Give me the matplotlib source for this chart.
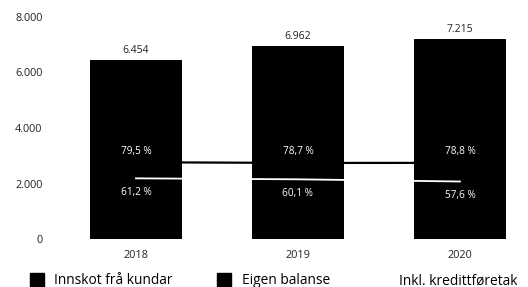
import matplotlib
matplotlib.use("Agg")
import matplotlib.pyplot as plt
from matplotlib.lines import Line2D

plt.rcParams['font.family'] = ['Open Sans', 'DejaVu Sans']

# data
years = ['2018', '2019', '2020']
balanse = [6454, 6962, 7215]
innskot_pct = [79.5, 78.7, 78.8]        # Innskot frå kundar (eigen balanse)
inkl_kreditt_pct = [61.2, 60.1, 57.6]   # Inkl. kredittføretak
yticks = [0, 2000, 4000, 6000, 8000]

def fmt_thousands(v):
    return f"{v:,.0f}".replace(',', '.')

def fmt_pct(v):
    return f"{v:.1f} %".replace('.', ',')

fig = plt.figure(figsize=(5.28, 2.87), dpi=100)
ax = fig.add_axes([0.104, 0.167, 0.896, 0.774])
x = list(range(len(years)))

bars = ax.bar(x, balanse, width=0.57, color='black', zorder=2)
for xi, v in zip(x, balanse):
    ax.annotate(fmt_thousands(v), (xi, v), xytext=(0, 3), textcoords='offset points',
                ha='center', va='bottom', fontsize=7.5, color='#222222')

ax.set_ylim(0, 8000)
ax.set_xlim(-0.5, 2.42)
ax.set_yticks(yticks)
ax.set_yticklabels([fmt_thousands(t) for t in yticks])
ax.set_xticks(x)
ax.set_xticklabels(years)
ax.tick_params(axis='both', length=0, labelsize=7.8, colors='#222222')
ax.tick_params(axis='y', pad=9)
ax.tick_params(axis='x', pad=8)
for s in ax.spines.values():
    s.set_visible(False)

# ratio lines on a hidden secondary axis
ax2 = ax.twinx()
ax2.set_ylim(-7.8, 244.6)
ax2.set_axis_off()
ax2.plot(x, innskot_pct, color='black', lw=1.6, zorder=3)
ax2.plot(x, inkl_kreditt_pct, color='white', lw=1.3, zorder=3)
for xi, p in zip(x, innskot_pct):
    ax2.annotate(fmt_pct(p), (xi, p), xytext=(0, 8), textcoords='offset points',
                 ha='center', va='center', fontsize=7.2, color='white')
for xi, p in zip(x, inkl_kreditt_pct):
    ax2.annotate(fmt_pct(p), (xi, p), xytext=(0, -10), textcoords='offset points',
                 ha='center', va='center', fontsize=7.2, color='white')

handles = [
    Line2D([], [], ls='none', marker='s', ms=10.5, mfc='black', mec='black'),
    Line2D([], [], ls='none', marker='s', ms=10.5, mfc='black', mec='black'),
    Line2D([], [], ls='none', marker='s', ms=10.5, mfc='white', mec='white'),
]
labels = ['Innskot frå kundar', 'Eigen balanse', 'Inkl. kredittføretak']
fig.legend(handles, labels, loc='lower left', bbox_to_anchor=(0.057, -0.005),
           ncol=3, frameon=False, fontsize=9.9, handletextpad=0.76,
           columnspacing=3.25, handlelength=1.0, borderpad=0, borderaxespad=0)

fig.savefig('out.png', dpi=100)
